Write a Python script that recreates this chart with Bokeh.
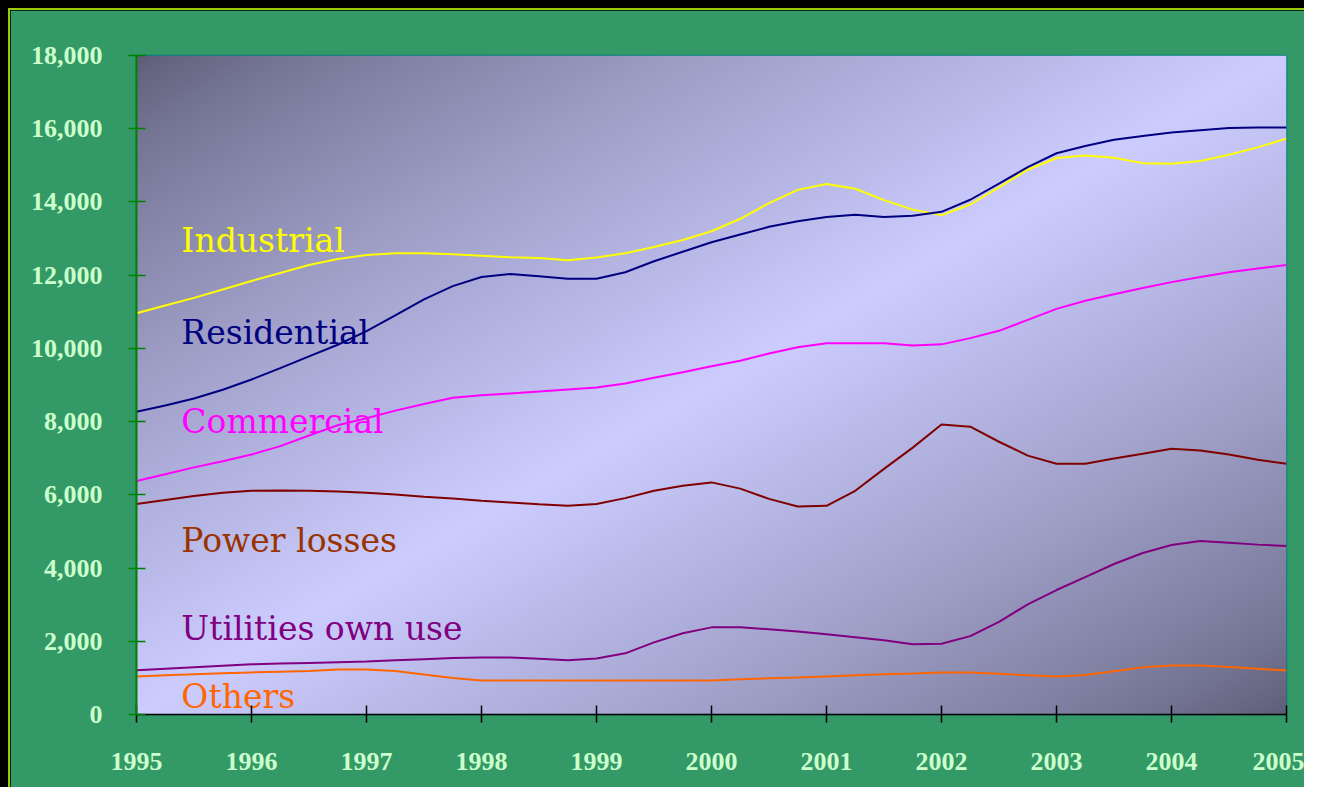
import numpy as np
from bokeh.plotting import figure
from bokeh.layouts import column
from bokeh.models import FixedTicker, NumeralTickFormatter, Range1d
from bokeh.embed import file_html
from bokeh.resources import INLINE
from bokeh.core.properties import value

# ---------------- data ----------------
years = [1995.00, 1995.25, 1995.50, 1995.75, 1996.00, 1996.25, 1996.50, 1996.75,
         1997.00, 1997.25, 1997.50, 1997.75, 1998.00, 1998.25, 1998.50, 1998.75,
         1999.00, 1999.25, 1999.50, 1999.75, 2000.00, 2000.25, 2000.50, 2000.75,
         2001.00, 2001.25, 2001.50, 2001.75, 2002.00, 2002.25, 2002.50, 2002.75,
         2003.00, 2003.25, 2003.50, 2003.75, 2004.00, 2004.25, 2004.50, 2004.75,
         2005.00]

industrial = [10960, 11170, 11380, 11610, 11840, 12060, 12280, 12440,
              12550, 12600, 12600, 12570, 12530, 12490, 12470, 12410,
              12480, 12600, 12770, 12960, 13200, 13540, 13970, 14330,
              14490, 14360, 14050, 13790, 13640, 13930, 14400, 14880,
              15200, 15270, 15210, 15060, 15040, 15120, 15290, 15490,
              15730]

residential = [8270, 8440, 8630, 8870, 9150, 9460, 9780, 10100,
               10470, 10900, 11340, 11700, 11950, 12030, 11970, 11900,
               11900, 12080, 12380, 12640, 12900, 13110, 13320, 13470,
               13590, 13650, 13590, 13620, 13730, 14060, 14500, 14950,
               15330, 15530, 15700, 15800, 15900, 15960, 16020, 16030,
               16030]

commercial = [6380, 6560, 6750, 6920, 7100, 7330, 7620, 7900,
              8090, 8300, 8480, 8650, 8720, 8770, 8820, 8880,
              8930, 9040, 9200, 9350, 9510, 9660, 9860, 10030,
              10140, 10140, 10140, 10080, 10110, 10280, 10480, 10780,
              11080, 11300, 11480, 11650, 11810, 11950, 12080, 12180,
              12280]

power_losses = [5750, 5860, 5970, 6060, 6110, 6120, 6110, 6090,
                6060, 6010, 5950, 5900, 5840, 5790, 5740, 5700,
                5750, 5910, 6110, 6250, 6340, 6170, 5890, 5680,
                5700, 6110, 6710, 7290, 7920, 7860, 7450, 7070,
                6850, 6850, 6990, 7120, 7260, 7210, 7100, 6960,
                6850]

utilities = [1210, 1250, 1290, 1330, 1370, 1390, 1410, 1430,
             1450, 1480, 1510, 1540, 1560, 1560, 1520, 1480,
             1530, 1670, 1970, 2220, 2380, 2380, 2330, 2270,
             2190, 2110, 2030, 1920, 1930, 2140, 2530, 3010,
             3400, 3750, 4110, 4410, 4630, 4740, 4690, 4640,
             4600]

others = [1040, 1070, 1100, 1130, 1150, 1170, 1190, 1230,
          1230, 1190, 1090, 1000, 930, 930, 930, 930,
          930, 930, 930, 930, 930, 960, 990, 1010,
          1040, 1070, 1100, 1120, 1150, 1150, 1110, 1070,
          1040, 1080, 1180, 1290, 1340, 1340, 1300, 1250,
          1200]

series_names = ["Industrial", "Residential", "Commercial",
                "Power losses", "Utilities own use", "Others"]
year_ticks = [1995, 1996, 1997, 1998, 1999, 2000, 2001, 2002, 2003, 2004, 2005]
value_ticks = [0, 2000, 4000, 6000, 8000, 10000, 12000, 14000, 16000, 18000]

# ---------------- styling ----------------
BG = "#339966"
TICK_TXT = "#CCFFCC"
line_colors = ["#FFFF00", "#000080", "#FF00FF", "#800000", "#800080", "#FF6600"]
label_colors = ["#FFFF00", "#000080", "#FF00FF", "#993300", "#800080", "#FF6600"]
label_y = [12960, 10440, 8000, 4740, 2360, 500]
label_x = 1995.39

p = figure(width=1294, height=777, frame_width=1148, frame_height=657,
           min_border_left=126, min_border_right=20,
           min_border_top=45, min_border_bottom=75,
           output_backend="svg", toolbar_location=None,
           x_range=Range1d(1995, 2005), y_range=Range1d(0, 18000))
p.background_fill_color = "#CCCCFF"
p.border_fill_color = BG
p.outline_line_color = "#008080"
p.outline_line_width = 1.5
p.xgrid.visible = False
p.ygrid.visible = False
p.styles = {"border-top": "2px solid #99CC00", "border-left": "2px solid #99CC00"}

# gradient background for the plot frame
H, W = 330, 574
xs = (np.arange(W) + 0.5) / W
yt = 1.0 - (np.arange(H) + 0.5) / H          # row 0 is the bottom
X, Y = np.meshgrid(xs, yt)
t = (X + Y) / 2.0
f = np.clip(1.0 - np.abs(2 * t - 1.0), 0, 1) ** 0.75
dark = np.array([92, 92, 118], dtype=float)
light = np.array([204, 204, 255], dtype=float)
rgb = dark[None, None, :] + (light - dark)[None, None, :] * f[..., None]
img = np.empty((H, W), dtype=np.uint32)
view = img.view(dtype=np.uint8).reshape((H, W, 4))
view[..., 0] = rgb[..., 0].astype(np.uint8)
view[..., 1] = rgb[..., 1].astype(np.uint8)
view[..., 2] = rgb[..., 2].astype(np.uint8)
view[..., 3] = 255
p.image_rgba(image=[img], x=1995, y=0, dw=10, dh=18000)

all_series = [industrial, residential, commercial, power_losses, utilities, others]
for vals, col in zip(all_series, line_colors):
    p.line(years, vals, line_color=col, line_width=2)

for name, col, ly in zip(series_names, label_colors, label_y):
    p.text(x=[label_x], y=[ly], text=[name], text_color=col,
           text_font=value("DejaVu Serif"), text_font_size="33px",
           text_baseline="alphabetic", text_align="left")

# axes
xa = p.xaxis[0]
xa.ticker = FixedTicker(ticks=year_ticks)
xa.formatter = NumeralTickFormatter(format="0")
xa.axis_line_color = "black"
xa.axis_line_width = 1.5
xa.major_tick_line_color = "black"
xa.major_tick_line_width = 1.5
xa.major_tick_in = 9
xa.major_tick_out = 8
xa.minor_tick_line_color = None
xa.major_label_text_font = "Liberation Serif"
xa.major_label_text_font_style = "bold"
xa.major_label_text_font_size = "26px"
xa.major_label_text_color = TICK_TXT
xa.major_label_standoff = 30

ya = p.yaxis[0]
ya.ticker = FixedTicker(ticks=value_ticks)
ya.formatter = NumeralTickFormatter(format="0,0")
ya.axis_line_color = "#008000"
ya.axis_line_width = 2
ya.major_tick_line_color = "#008000"
ya.major_tick_line_width = 1.5
ya.major_tick_in = 9
ya.major_tick_out = 8
ya.minor_tick_line_color = None
ya.major_label_text_font = "Liberation Serif"
ya.major_label_text_font_style = "bold"
ya.major_label_text_font_size = "26px"
ya.major_label_text_color = TICK_TXT
ya.major_label_standoff = 26

page = column(p, styles={"background-color": "black",
                         "padding-left": "8px", "padding-top": "8px"})

open("out.html", "w").write(file_html(page, INLINE))
